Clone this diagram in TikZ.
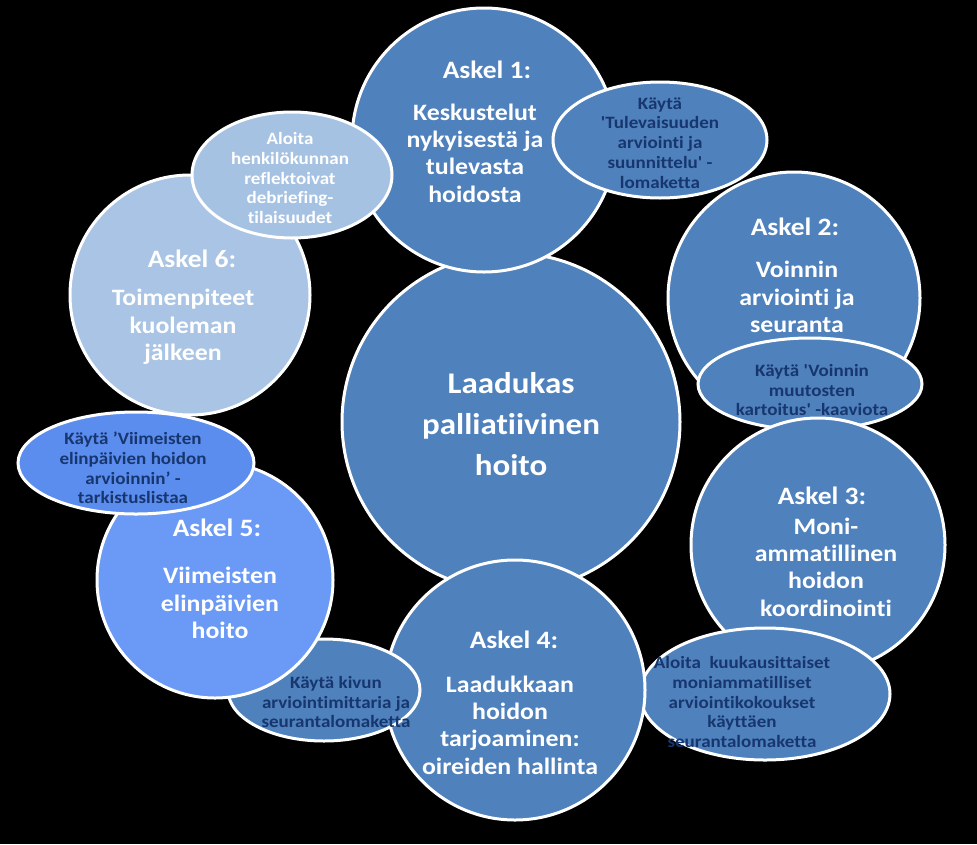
\documentclass[tikz,border=0pt]{standalone}
\usepackage{fontspec}
\setmainfont{Carlito}[FakeStretch=1.1,BoldFont={Carlito Bold},Ligatures={TeXOff,NoCommon}]
\usetikzlibrary{shapes.geometric}
\definecolor{mainblue}{HTML}{4F81BD}
\definecolor{brightblue}{HTML}{6A9AF5}
\definecolor{brightblueB}{HTML}{5B8DEF}
\definecolor{lightblue}{HTML}{A9C4E4}
\definecolor{lightblueB}{HTML}{A6C2E3}
\definecolor{navytext}{HTML}{17366E}
\begin{document}
\begin{tikzpicture}[x=1pt,y=-1pt,
  bub/.style={circle,draw=white,line width=3pt,inner sep=0pt},
  ell/.style={ellipse,draw=white,line width=3pt,inner sep=0pt},
  head/.style={text=white,font=\bfseries\fontsize{25}{28}\selectfont},
  body/.style={text=white,align=center,font=\bfseries\fontsize{23.5}{27.3}\selectfont},
  note/.style={text=navytext,align=center,font=\bfseries\fontsize{17.3}{19.8}\selectfont},
  notew/.style={note,text=white}]
\fill[black] (0,0) rectangle (977,844);
\useasboundingbox (0,0) rectangle (977,844);

% centre
\node[bub,fill=mainblue,minimum size=338pt] (c) at (511,422) {};
\node[text=white,align=center,font=\bfseries\fontsize{30}{41}\selectfont] (ct) at (511,424) {Laadukas\\palliatiivinen\\hoito};

% step 1
\node[bub,fill=mainblue,minimum size=264pt] (s1) at (484,140) {};
\node[head] (h1) at (487,70) {Askel 1:};
\node[body] (b1) at (475,153) {Keskustelut\\nykyisestä ja\\tulevasta\\hoidosta};
\node[ell,fill=mainblue,minimum width=214pt,minimum height=116pt] (e1) at (660,140) {};
\node[note] (n1) at (660,143) {Käytä\\'Tulevaisuuden\\arviointi ja\\suunnittelu' -\\lomaketta};

% step 2
\node[bub,fill=mainblue,minimum size=252pt] (s2) at (794,298) {};
\node[head] (h2) at (795,227) {Askel 2:};
\node[body] (b2) at (797,297) {Voinnin\\arviointi ja\\seuranta};
\node[ell,fill=mainblue,minimum width=224pt,minimum height=92pt] (e2) at (810,384) {};
\node[note] (n2) at (812,390) {Käytä 'Voinnin\\muutosten\\kartoitus' -kaaviota};

% step 3
\node[bub,fill=mainblue,minimum size=254pt] (s3) at (818,545) {};
\node[head] (h3) at (822,496) {Askel 3:};
\node[body] (b3) at (826,567) {Moni-\\ammatillinen\\hoidon\\koordinointi};
\node[ell,fill=mainblue,minimum width=250pt,minimum height=132pt] (e3) at (765,694) {};
\node[note] (n3) at (742,702) {Aloita\ \ kuukausittaiset\\moniammatilliset\\arviointikokoukset\\käyttäen\\seurantalomaketta};

% step 4
\node[bub,fill=mainblue,minimum size=260pt] (s4) at (515,690) {};
\node[head] (h4) at (514,640) {Askel 4:};
\node[body] (b4) at (510,725) {Laadukkaan\\hoidon\\tarjoaminen:\\oireiden hallinta};
\node[ell,fill=mainblue,minimum width=192pt,minimum height=102pt] (e4) at (324,690) {};
\node[note] (n4) at (336,702) {Käytä kivun\\arviointimittaria ja\\seurantalomaketta};

% step 5
\node[bub,fill=brightblue,minimum size=236pt] (s5) at (215,580) {};
\node[head] (h5) at (217,528) {Askel 5:};
\node[body] (b5) at (220,603) {Viimeisten\\elinpäivien\\hoito};
\node[ell,fill=brightblueB,minimum width=236pt,minimum height=102pt] (e5) at (136,463) {};
\node[note] (n5) at (133,468) {Käytä ’Viimeisten\\elinpäivien hoidon\\arvioinnin’ -\\tarkistuslistaa};

% step 6
\node[bub,fill=lightblue,minimum size=240pt] (s6) at (190,295) {};
\node[head] (h6) at (192,259) {Askel 6:};
\node[body] (b6) at (183,327) {Toimenpiteet\\kuoleman\\jälkeen};
\node[ell,fill=lightblueB,minimum width=200pt,minimum height=126pt] (e6) at (292,175) {};
\node[notew] (n6) at (290,178) {Aloita\\henkilökunnan\\reflektoivat\\debriefing-\\tilaisuudet};
\end{tikzpicture}
\end{document}
